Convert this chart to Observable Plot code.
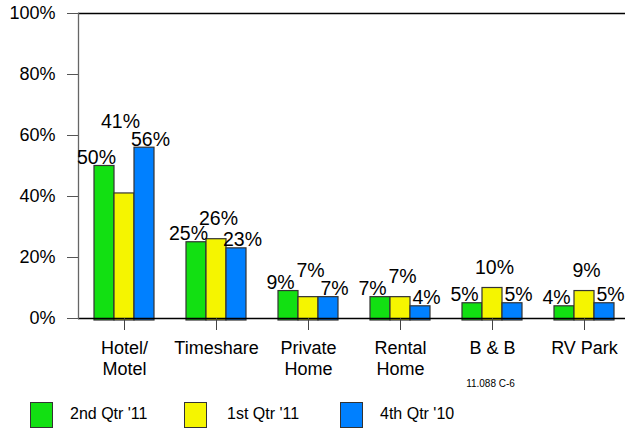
<!DOCTYPE html>
<html>
<head>
<meta charset="utf-8">
<script src="https://cdn.jsdelivr.net/npm/d3@7"></script>
<script src="https://cdn.jsdelivr.net/npm/@observablehq/plot@0.6"></script>
<style>
  html, body { margin: 0; padding: 0; background: #fff; }
  body { width: 625px; height: 429px; overflow: hidden; font-family: "Liberation Sans", Arial, sans-serif; }
  #legend { position: relative; height: 33px; width: 625px; }
  #legend .sw { position: absolute; top: 6px; width: 21px; height: 24px; border: 1px solid #333; }
  #legend .lb { position: absolute; top: 7px; font-size: 16px; line-height: 22px; color: #000; }
</style>
</head>
<body>
<div id="chart"></div>
<div id="legend"></div>
<script>
const categories = ["Hotel/Motel", "Timeshare", "Private Home", "Rental Home", "B & B", "RV Park"];
const categoryLabels = ["Hotel/\nMotel", "Timeshare", "Private\nHome", "Rental\nHome", "B & B", "RV Park"];
const seriesNames = ["2nd Qtr '11", "1st Qtr '11", "4th Qtr '10"];
const q2_11 = [50, 25, 9, 7, 5, 4];
const q1_11 = [41, 26, 7, 7, 10, 9];
const q4_10 = [56, 23, 7, 4, 5, 5];
const yTicks = [0, 20, 40, 60, 80, 100];
const note = "11.088 C-6";
const colors = ["#12E012", "#F5F500", "#0080FF"];

const seriesValues = [q2_11, q1_11, q4_10];
const data = seriesValues.map((vals, s) => categories.map((c, i) => ({
  cat: c, series: seriesNames[s], value: vals[i],
  groupMax: Math.max(q2_11[i], q1_11[i], q4_10[i]),
  // middle label is lifted above its neighbours' labels when it is lower than both neighbours
  lifted: q1_11[i] < q2_11[i] && q1_11[i] < q4_10[i]
})));
const labelOf = new Map(categories.map((c, i) => [c, categoryLabels[i]]));

const barDx = [-20, 0, 20];
const labelDx = [-28, 2, 26];
const fmt = d => d.value + "%";

const marks = [];
data.forEach((rows, s) => {
  marks.push(Plot.barY(rows, {x: "cat", y: "value", fill: colors[s], stroke: "#333", strokeWidth: 1.2,
    insetLeft: 36, insetRight: 36, insetBottom: -2, dx: barDx[s]}));
});
marks.push(Plot.ruleY([0, 100], {stroke: "#000", strokeWidth: 1.3}));
marks.push(Plot.frame({anchor: "left", stroke: "#666", strokeWidth: 1.3}));
marks.push(Plot.axisY({ticks: yTicks, tickFormat: d => d + "%", tickSize: 11, tickPadding: 12, fontSize: 18, label: null, stroke: "#555", color: "#000"}));
marks.push(Plot.axisX({tickSize: 12, tickFormat: () => "", label: null, stroke: "#444"}));
marks.push(Plot.text(categories, {x: d => d, text: d => labelOf.get(d), frameAnchor: "bottom", dy: 20, lineAnchor: "top", lineHeight: 1.2, fontSize: 18, fill: "#000"}));
// value labels
marks.push(Plot.text(data[0], {x: "cat", y: "value", text: fmt, dx: labelDx[0], dy: -2, lineAnchor: "bottom", fontSize: 19.5, fill: "#000"}));
marks.push(Plot.text(data[1].filter(d => !d.lifted), {x: "cat", y: "groupMax", text: fmt, dx: labelDx[1], dy: -14, lineAnchor: "bottom", fontSize: 19.5, fill: "#000"}));
marks.push(Plot.text(data[1].filter(d => d.lifted), {x: "cat", y: "groupMax", text: fmt, dx: -4, dy: -20, lineAnchor: "bottom", fontSize: 19.5, fill: "#000"}));
marks.push(Plot.text(data[2], {x: "cat", y: "value", text: fmt, dx: labelDx[2], dy: -2, lineAnchor: "bottom", fontSize: 19.5, fill: "#000"}));
marks.push(Plot.text([note], {frameAnchor: "bottom", text: d => d, dx: 136, dy: 68, lineAnchor: "bottom", fontSize: 10, fill: "#000"}));

const chart = Plot.plot({
  width: 625,
  height: 396,
  marginLeft: 78,
  marginRight: -5,
  marginTop: 13,
  marginBottom: 78,
  style: {fontFamily: "'Liberation Sans', Arial, sans-serif", background: "#fff", overflow: "hidden"},
  x: {domain: categories, padding: 0, axis: null},
  y: {domain: [0, 100], axis: null},
  marks
});
document.getElementById("chart").appendChild(chart);

const legend = document.getElementById("legend");
const swX = [30, 184, 340];
const lbX = [70, 227, 380];
seriesNames.forEach((name, i) => {
  const sw = document.createElement("div");
  sw.className = "sw"; sw.style.left = swX[i] + "px"; sw.style.background = colors[i];
  const lb = document.createElement("div");
  lb.className = "lb"; lb.style.left = lbX[i] + "px"; lb.textContent = name;
  legend.appendChild(sw); legend.appendChild(lb);
});
</script>
</body>
</html>
